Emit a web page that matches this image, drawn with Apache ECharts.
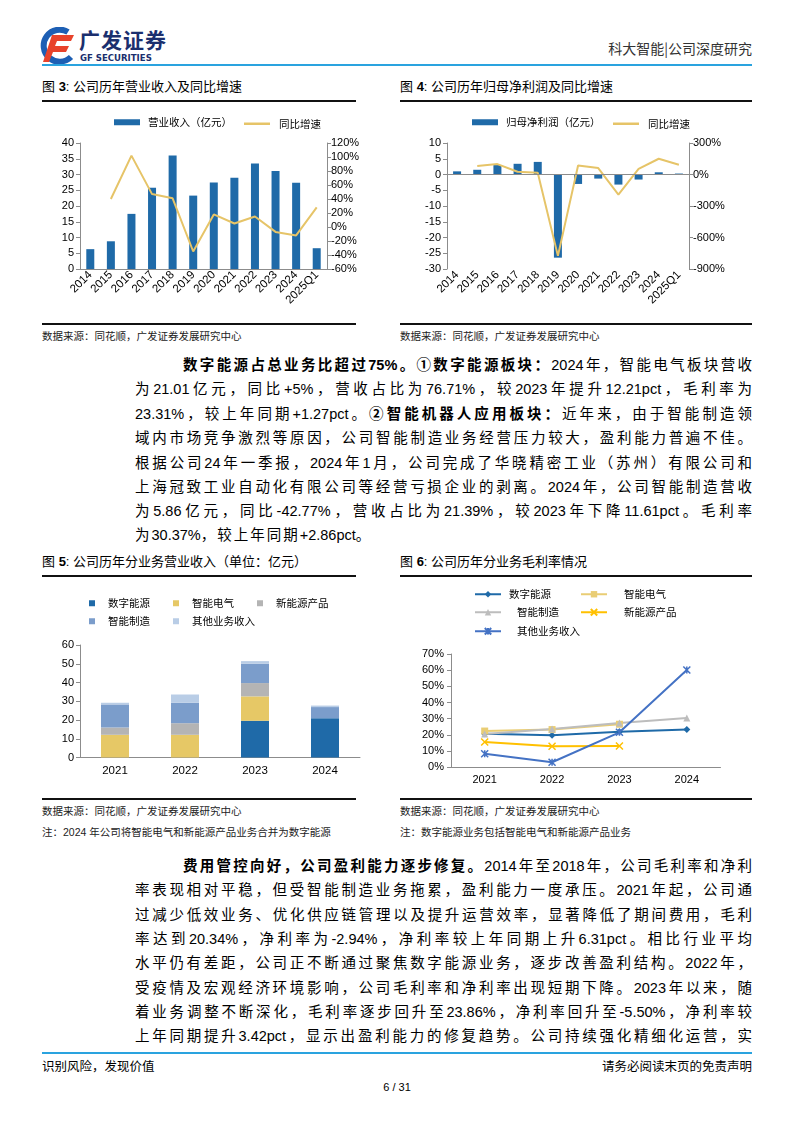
<!DOCTYPE html>
<html><head><meta charset="utf-8">
<script src="https://cdn.jsdelivr.net/npm/echarts@6/dist/echarts.min.js"></script>
<style>
body{margin:0;background:#fff;}
#page{position:relative;width:794px;height:1123px;overflow:hidden;font-family:"Liberation Sans","Noto Sans CJK SC",sans-serif;color:#000;background:#fff;}
.abs{position:absolute;}
.ln{position:absolute;left:135px;width:617px;height:24px;line-height:24px;font-size:14.5px;white-space:nowrap;text-align:justify;text-align-last:justify;}
.ln.last{text-align-last:left;}
.ln.first{padding-left:48px;width:569px;}
.sp{letter-spacing:2px;}
.ttl{position:absolute;font-size:13px;line-height:16px;white-space:nowrap;}
.rule{position:absolute;height:1.5px;background:#111;}
.src{position:absolute;font-size:10.5px;line-height:14px;color:#222;white-space:nowrap;}
b{font-weight:bold;}
</style></head>
<body>
<div id="page">
  <!-- header -->
  <svg class="abs" style="left:38px;top:27px" width="40" height="38" viewBox="0 0 40 38">
    <path d="M30 5 A16 16 0 1 0 33 30" fill="none" stroke="#1d5fb4" stroke-width="6"/>
    <path d="M14 8 L36 8 L33 14 L19 14 L17 19 L31 19 L28 25 L15 25 L11 35 L5 35 Z" fill="#e8432b"/>
  </svg>
  <div class="abs" style="left:79px;top:27px;font-size:21px;font-weight:bold;color:#1b2f6e;letter-spacing:1px;line-height:24px;font-family:'Noto Sans CJK SC'">广发证券</div>
  <div class="abs" style="left:80px;top:52px;font-size:9.5px;font-weight:bold;color:#1b2f6e;line-height:11px;font-family:'DejaVu Sans Condensed','Liberation Sans'">GF SECURITIES</div>
  <div class="abs" style="right:42px;top:39px;font-size:14px;color:#333;line-height:18px;font-family:'Noto Sans CJK SC'">科大智能|公司深度研究</div>
  <div class="abs" style="left:42px;top:64px;width:710px;height:2px;background:#2aa3df"></div>

  <!-- fig 3/4 titles -->
  <div class="ttl" style="left:42px;top:79px">图 <b>3</b>: 公司历年营业收入及同比增速</div>
  <div class="rule" style="left:42px;top:100px;width:314px"></div>
  <div class="ttl" style="left:400px;top:79px">图 <b>4</b>: 公司历年归母净利润及同比增速</div>
  <div class="rule" style="left:400px;top:100px;width:352px"></div>

  <div id="c3" class="abs" style="left:40px;top:105px;width:320px;height:212px"></div>
  <div id="c4" class="abs" style="left:398px;top:105px;width:345px;height:212px"></div>

  <div class="rule" style="left:42px;top:323px;width:314px"></div>
  <div class="rule" style="left:400px;top:323px;width:352px"></div>
  <div class="src" style="left:42px;top:329px">数据来源：同花顺，广发证券发展研究中心</div>
  <div class="src" style="left:400px;top:329px">数据来源：同花顺，广发证券发展研究中心</div>

  <!-- paragraph 1 -->
  <div class="ln first" style="top:353px"><b>数字能源占总业务比超过75%。①数字能源板块：</b>2024年，智能电气板块营收</div>
  <div class="ln" style="top:377px">为21.01亿元，同比+5%，营收占比为76.71%，较2023年提升12.21pct，毛利率为</div>
  <div class="ln" style="top:402px">23.31%，较上年同期+1.27pct。<b>②智能机器人应用板块：</b>近年来，由于智能制造领</div>
  <div class="ln" style="top:426px">域内市场竞争激烈等原因，公司智能制造业务经营压力较大，盈利能力普遍不佳。</div>
  <div class="ln" style="top:451px">根据公司24年一季报，2024年1月，公司完成了华晓精密工业（苏州）有限公司和</div>
  <div class="ln" style="top:475px">上海冠致工业自动化有限公司等经营亏损企业的剥离。2024年，公司智能制造营收</div>
  <div class="ln" style="top:499px">为5.86亿元，同比-42.77%，营收占比为21.39%，较2023年下降11.61pct。毛利率</div>
  <div class="ln last" style="top:523px"><span class="sp">为</span>30.37%<span class="sp">，较上年同期</span>+2.86pct。</div>

  <!-- fig 5/6 titles -->
  <div class="ttl" style="left:42px;top:554px">图 <b>5</b>: 公司历年分业务营业收入（单位：亿元）</div>
  <div class="rule" style="left:42px;top:575px;width:314px"></div>
  <div class="ttl" style="left:400px;top:554px">图 <b>6</b>: 公司历年分业务毛利率情况</div>
  <div class="rule" style="left:400px;top:575px;width:352px"></div>

  <div id="c5" class="abs" style="left:40px;top:580px;width:330px;height:205px"></div>
  <div id="c6" class="abs" style="left:398px;top:580px;width:354px;height:212px"></div>

  <div class="rule" style="left:42px;top:798px;width:314px"></div>
  <div class="rule" style="left:400px;top:798px;width:352px"></div>
  <div class="src" style="left:42px;top:804px">数据来源：同花顺，广发证券发展研究中心</div>
  <div class="src" style="left:400px;top:804px">数据来源：同花顺，广发证券发展研究中心</div>
  <div class="src" style="left:42px;top:825px">注：2024 年公司将智能电气和新能源产品业务合并为数字能源</div>
  <div class="src" style="left:400px;top:825px">注：数字能源业务包括智能电气和新能源产品业务</div>

  <!-- paragraph 2 -->
  <div class="ln first" style="top:854px"><b>费用管控向好，公司盈利能力逐步修复。</b>2014年至2018年，公司毛利率和净利</div>
  <div class="ln" style="top:878px">率表现相对平稳，但受智能制造业务拖累，盈利能力一度承压。2021年起，公司通</div>
  <div class="ln" style="top:903px">过减少低效业务、优化供应链管理以及提升运营效率，显著降低了期间费用，毛利</div>
  <div class="ln" style="top:927px">率达到20.34%，净利率为-2.94%，净利率较上年同期上升6.31pct。相比行业平均</div>
  <div class="ln" style="top:951px">水平仍有差距，公司正不断通过聚焦数字能源业务，逐步改善盈利结构。2022年，</div>
  <div class="ln" style="top:976px">受疫情及宏观经济环境影响，公司毛利率和净利率出现短期下降。2023年以来，随</div>
  <div class="ln" style="top:1000px">着业务调整不断深化，毛利率逐步回升至23.86%，净利率回升至-5.50%，净利率较</div>
  <div class="ln" style="top:1024px">上年同期提升3.42pct，显示出盈利能力的修复趋势。公司持续强化精细化运营，实</div>

  <!-- footer -->
  <div class="abs" style="left:42px;top:1052px;width:710px;height:1.5px;background:#2aa3df"></div>
  <div class="abs" style="left:42px;top:1058px;font-size:12.5px;line-height:16px;font-family:'Noto Sans CJK SC'">识别风险，发现价值</div>
  <div class="abs" style="right:42px;top:1058px;font-size:12.5px;line-height:16px;font-family:'Noto Sans CJK SC'">请务必阅读末页的免责声明</div>
  <div class="abs" style="left:0;width:794px;text-align:center;top:1080px;font-size:11px;line-height:14px">6 / 31</div>
</div>

<script>
// ===== Data =====
// Fig 3
var years12 = ['2014','2015','2016','2017','2018','2019','2020','2021','2022','2023','2024','2025Q1'];
var revenue = [6.3, 8.8, 17.5, 25.8, 36.0, 23.3, 27.5, 29.0, 33.5, 31.1, 27.4, 6.6];
var revenueYoY = [null, 40, 102, 47, 41, -35, 18, 5, 15, -7, -12, 28];
// Fig 4
var netProfit = [1.0, 1.5, 3.0, 3.4, 4.0, -26.4, -3.0, -1.3, -3.2, -1.6, 0.7, 0.3];
var netProfitYoY = [null, 80, 99, 26, 16, -775, 86, 61, -191, 54, 150, 93];
// Fig 5
var years4 = ['2021','2022','2023','2024'];
var segDigital = [null, null, 19.6, 21.0];
var segElectric = [12.1, 12.1, 13.0, null];
var segNewEnergy = [3.9, 6.2, 7.1, null];
var segManufacture = [12.3, 10.9, 10.3, 5.9];
var segOther = [0.9, 4.4, 1.4, 0.8];
// Fig 6
var gmDigital = [20.7, 19.8, 22.0, 23.3];
var gmElectric = [22.4, 23.3, 26.6, null];
var gmManufacture = [20.5, 23.7, 27.4, 30.4];
var gmNewEnergy = [15.6, 13.0, 13.2, null];
var gmOther = [8.4, 3.1, 21.6, 60.1];

// ===== Styles =====
var AX = '#8c8c8c';
var NUMF = 'Liberation Sans';
var CJK = 'Noto Sans CJK SC';
var LINEC = '#e6c468';
function yAx(opt){
  return Object.assign({
    type:'value', splitLine:{show:false},
    axisLine:{show:true, lineStyle:{color:AX, width:1}},
    axisTick:{show:true, length:4, lineStyle:{color:AX}},
    axisLabel:{color:'#000', fontFamily:NUMF, fontSize:11, margin:6}
  }, opt);
}
function legendItem(name, left, top, w, h, pad, icon){
  var l = {data:[icon?{name:name, icon:icon}:name], left:left, top:top, itemWidth:w, itemHeight:h, selectedMode:false, padding:0,
    textStyle:{fontSize:10.5, color:'#000', fontFamily:CJK, padding:[0,0,0,pad]}};
  return l;
}

// ===== Fig 3 =====
var c3 = echarts.init(document.getElementById('c3'));
c3.setOption({
  animation:false,
  grid:{left:40, top:38, width:247, height:126, containLabel:false, outerBoundsMode:'none'},
  legend:[
    legendItem('营业收入（亿元）', 74, 12, 26, 6, 3, 'rect'),
    legendItem('同比增速', 204, 13.5, 26, 2.5, 4, 'rect')
  ],
  xAxis:{type:'category', data:years12, boundaryGap:true,
    axisLine:{show:true, lineStyle:{color:AX}}, axisTick:{show:false},
    axisLabel:{rotate:45, color:'#000', fontFamily:NUMF, fontSize:11.5, margin:4, interval:0}},
  yAxis:[
    yAx({min:0, max:40, interval:5, position:'left'}),
    yAx({min:-60, max:120, interval:20, position:'right', axisLabel:{color:'#000', fontFamily:NUMF, fontSize:11, margin:4, formatter:'{value}%'}})
  ],
  series:[
    {name:'营业收入（亿元）', type:'bar', data:revenue, barWidth:8, itemStyle:{color:'#1f6aa8'}, yAxisIndex:0},
    {name:'同比增速', type:'line', data:revenueYoY, yAxisIndex:1, symbol:'none', lineStyle:{color:LINEC, width:2}, itemStyle:{color:LINEC}}
  ]
});

// ===== Fig 4 =====
var c4 = echarts.init(document.getElementById('c4'));
c4.setOption({
  animation:false,
  grid:{left:49, top:38, width:242, height:126, containLabel:false, outerBoundsMode:'none'},
  legend:[
    legendItem('归母净利润（亿元）', 74, 12, 26, 6, 3, 'rect'),
    legendItem('同比增速', 215, 13.5, 26, 2.5, 4, 'rect')
  ],
  xAxis:{type:'category', data:years12, boundaryGap:true, position:'bottom',
    axisLine:{show:false, onZero:false}, axisTick:{show:false},
    axisLabel:{rotate:45, color:'#000', fontFamily:NUMF, fontSize:11.5, margin:4, interval:0}},
  yAxis:[
    yAx({min:-30, max:10, interval:5, position:'left'}),
    yAx({min:-900, max:300, interval:300, position:'right', axisLabel:{color:'#000', fontFamily:NUMF, fontSize:11, margin:4, formatter:'{value}%'}})
  ],
  series:[
    {name:'归母净利润（亿元）', type:'bar', data:netProfit, barWidth:8, itemStyle:{color:'#1f6aa8'}, yAxisIndex:0,
      markLine:{silent:true, symbol:['none','none'], label:{show:false}, lineStyle:{color:AX, type:'solid', width:1}, data:[{yAxis:0}]}},
    {name:'同比增速', type:'line', data:netProfitYoY, yAxisIndex:1, symbol:'none', lineStyle:{color:LINEC, width:2}, itemStyle:{color:LINEC}}
  ]
});

// ===== Fig 5 =====
var c5 = echarts.init(document.getElementById('c5'));
var colDigital='#1f6aa8', colElectric='#e6c866', colNew='#b4b4b4', colMan='#7b9dcb', colOther='#b9cde6';
c5.setOption({
  animation:false,
  grid:{left:40, top:65, width:280, height:112.5, containLabel:false, outerBoundsMode:'none'},
  legend:[
    legendItem('数字能源', 49, 18, 6, 6, 8, 'rect'),
    legendItem('智能电气', 133, 18, 6, 6, 8, 'rect'),
    legendItem('新能源产品', 217, 18, 6, 6, 8, 'rect'),
    legendItem('智能制造', 49, 36, 6, 6, 8, 'rect'),
    legendItem('其他业务收入', 133, 36, 6, 6, 8, 'rect')
  ],
  xAxis:{type:'category', data:years4, boundaryGap:true,
    axisLine:{show:true, lineStyle:{color:AX}}, axisTick:{show:false},
    axisLabel:{color:'#000', fontFamily:NUMF, fontSize:11.5, margin:7}},
  yAxis:yAx({min:0, max:60, interval:10}),
  series:[
    {name:'数字能源', type:'bar', stack:'s', data:segDigital, barWidth:28, itemStyle:{color:colDigital}},
    {name:'智能电气', type:'bar', stack:'s', data:segElectric, barWidth:28, itemStyle:{color:colElectric}},
    {name:'新能源产品', type:'bar', stack:'s', data:segNewEnergy, barWidth:28, itemStyle:{color:colNew}},
    {name:'智能制造', type:'bar', stack:'s', data:segManufacture, barWidth:28, itemStyle:{color:colMan}},
    {name:'其他业务收入', type:'bar', stack:'s', data:segOther, barWidth:28, itemStyle:{color:colOther}}
  ]
});

// ===== Fig 6 =====
var c6 = echarts.init(document.getElementById('c6'));
var xPath = 'path://M0,0 L10,10 M10,0 L0,10';
var starPath = 'path://M0,0 L10,10 M10,0 L0,10 M5,0 L5,10';
function ln(name, data, color, symbol, size, stroke){
  var s = {name:name, type:'line', data:data, symbol:symbol, symbolSize:size, showSymbol:true,
    lineStyle:{color:color, width:2}, itemStyle:{color:color}};
  if(stroke){ s.itemStyle = {color:'rgba(0,0,0,0)', borderColor:color, borderWidth:1.5}; }
  return s;
}
c6.setOption({
  animation:false,
  grid:{left:53, top:74, width:269.5, height:113.3, containLabel:false, outerBoundsMode:'none'},
  legend:[
    legendItem('数字能源', 76, 9, 26, 8, 3),
    legendItem('智能电气', 182, 9, 26, 8, 12),
    legendItem('智能制造', 76, 27, 26, 8, 11),
    legendItem('新能源产品', 182, 27, 26, 8, 12),
    legendItem('其他业务收入', 76, 46, 26, 8, 11)
  ],
  xAxis:{type:'category', data:years4, boundaryGap:true,
    axisLine:{show:true, lineStyle:{color:AX}}, axisTick:{show:false},
    axisLabel:{color:'#000', fontFamily:NUMF, fontSize:11, margin:7}},
  yAxis:yAx({min:0, max:70, interval:10, axisLabel:{color:'#000', fontFamily:NUMF, fontSize:11, margin:7, formatter:'{value}%'}}),
  series:[
    ln('数字能源', gmDigital, '#1f6aa8', 'diamond', 7),
    ln('智能电气', gmElectric, '#e9cd74', 'rect', 7),
    ln('智能制造', gmManufacture, '#bdbdbd', 'triangle', 7),
    ln('新能源产品', gmNewEnergy, '#ffc000', xPath, 7, true),
    ln('其他业务收入', gmOther, '#4472c4', starPath, 7, true)
  ]
});
</script>
</body></html>
